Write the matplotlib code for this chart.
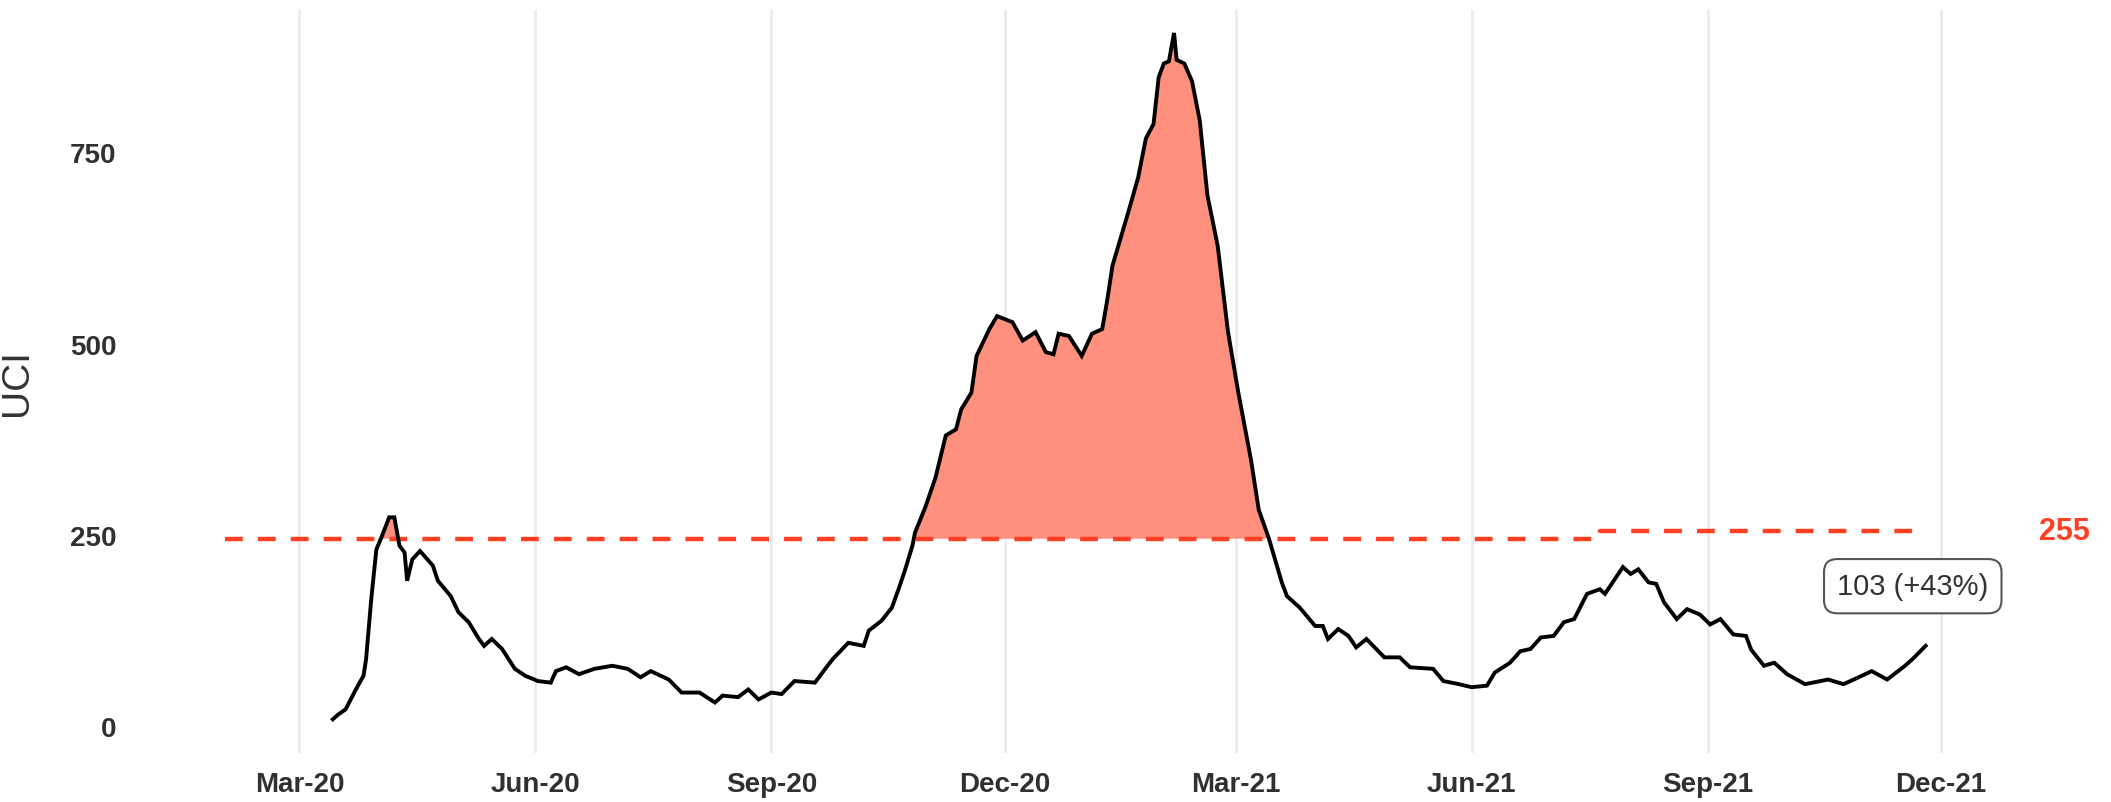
import matplotlib.pyplot as plt
import matplotlib.dates as mdates
import numpy as np
import pandas as pd

plt.rcParams['font.family'] = ['Liberation Sans', 'DejaVu Sans']

# ICU occupancy (UCI), days counted from 2020-03-01
start = pd.Timestamp('2020-03-01')
days = [13, 15, 18, 22, 25, 26, 28, 30, 32, 35, 37, 39, 41, 42, 44, 47, 52, 54, 59, 62,
        66, 70, 72, 75, 79, 84, 88, 93, 98, 100, 104, 109, 115, 122, 128, 133, 137, 144,
        149, 156, 162, 165, 171, 175, 179, 184, 188, 193, 201, 205, 208, 214, 220, 222,
        227, 231, 234, 236, 239, 240, 244, 248, 252, 256, 258, 262, 264, 269, 272, 278,
        282, 287, 291, 294, 296, 300, 305, 309, 313, 315, 317, 323, 327, 330, 333, 335,
        337, 339, 341, 342, 345, 348, 351, 354, 358, 362, 366, 371, 374, 378, 383, 385,
        390, 396, 399, 401, 405, 409, 412, 416, 423, 429, 433, 442, 446, 452, 457, 463,
        466, 472, 476, 480, 484, 489, 493, 497, 502, 507, 509, 512, 516, 519, 522, 526,
        529, 532, 537, 541, 546, 550, 554, 559, 564, 566, 571, 575, 580, 587, 596, 602,
        606, 613, 619, 626, 629, 634]
uci = [9, 15, 22, 48, 66, 88, 166, 231, 247, 273, 273, 236, 227, 190, 218, 229, 210, 190, 170, 149,
       136, 114, 105, 114, 101, 75, 66, 59, 57, 72, 77, 68, 75, 79, 75, 64, 72, 61,
       44, 44, 31, 40, 38, 48, 35, 44, 42, 59, 57, 75, 88, 109, 105, 125,
       138, 155, 183, 203, 236, 253, 286, 325, 380, 388, 414, 436, 484, 519, 536, 528,
       504, 515, 489, 486, 513, 510, 484, 513, 519, 558, 602, 670, 717, 768, 787, 848,
       866, 869, 906, 871, 866, 843, 792, 694, 628, 516, 437, 348, 283, 245, 188, 170,
       155, 131, 131, 114, 127, 118, 103, 114, 90, 90, 77, 75, 59, 55, 51, 53,
       70, 83, 98, 101, 116, 118, 136, 140, 173, 179, 173, 188, 208, 199, 205, 188,
       186, 162, 140, 153, 146, 133, 140, 120, 118, 100, 79, 83, 68, 55, 61, 55,
       61, 72, 61, 79, 88, 105]

# red-line threshold (steps up in July 2021)
thr_dates = ['2020-02-01', '2021-07-21', '2021-11-24']
thr_values = [245, 255, 255]

last_label = '103 (+43%)'
thr_label = '255'

dates = start + pd.to_timedelta(days, unit='D')
uci = np.array(uci)
thr_dates = pd.to_datetime(thr_dates)
thr_on_dates = np.where(dates < thr_dates[1], thr_values[0], thr_values[1])

red = '#FF4024'
fig = plt.figure(figsize=(21.11, 8.03), dpi=100)
ax = fig.add_axes([125 / 2111, 49 / 803, 1975 / 2111, 743 / 803])

ax.fill_between(dates, uci, thr_on_dates, where=uci > thr_on_dates, interpolate=True,
                color='#FF907E', lw=0, zorder=2)
ax.plot(thr_dates, thr_values, color=red, lw=3.2, dashes=(4, 3.4),
        drawstyle='steps-post', zorder=3)
ax.plot(dates, uci, color='black', lw=2.8, zorder=4, solid_joinstyle='miter')

ax.text(pd.Timestamp('2022-01-18'), thr_values[-1], thr_label, color=red,
        fontsize=22, fontweight='bold', ha='center', va='center')
ax.text(pd.Timestamp('2021-11-20'), 183, last_label, color='#333333', fontsize=21,
        ha='center', va='center',
        bbox=dict(boxstyle='round,pad=0.45', fc='white', ec='#555555', lw=1.5))

ax.set_xlim(pd.Timestamp('2019-12-24'), pd.Timestamp('2022-02-01'))
ax.set_ylim(-35, 936)
ax.xaxis.set_major_formatter(mdates.DateFormatter('%b-%y'))
ax.set_xticks(pd.date_range('2020-03-01', '2021-12-01', freq='3MS'))
ax.set_yticks([0, 250, 500, 750])
ax.grid(axis='x', color='#EBEBEB', lw=2)
ax.set_axisbelow(True)
for s in ax.spines.values():
    s.set_visible(False)
ax.tick_params(axis='both', length=0, labelsize=20, labelcolor='#303030')
ax.tick_params(axis='x', pad=13)
ax.tick_params(axis='y', pad=6)
for lab in ax.get_xticklabels() + ax.get_yticklabels():
    lab.set_fontweight('bold')

ax.set_ylabel('UCI', fontsize=28, color='#333333')
ax.yaxis.set_label_coords(-0.0456, 0.5)

fig.savefig('out.png', dpi=100)
